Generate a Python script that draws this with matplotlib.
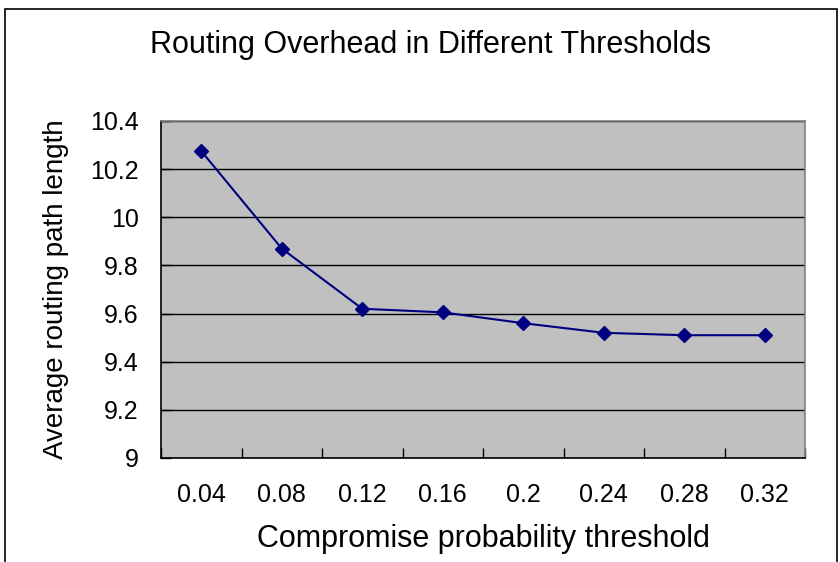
import matplotlib.pyplot as plt
from matplotlib.patches import Rectangle

# Данные с графика
thresholds = ["0.04", "0.08", "0.12", "0.16", "0.2", "0.24", "0.28", "0.32"]
path_length = [10.275, 9.87, 9.62, 9.605, 9.56, 9.52, 9.51, 9.51]
y_ticks = [9, 9.2, 9.4, 9.6, 9.8, 10, 10.2, 10.4]
y_tick_labels = ["9", "9.2", "9.4", "9.6", "9.8", "10", "10.2", "10.4"]

plt.rcParams['font.family'] = ['Liberation Sans', 'DejaVu Sans']

fig = plt.figure(figsize=(8.4, 5.62), dpi=100)
ax = fig.add_axes([0.1917, 0.1851, 0.7667, 0.5996])

# Рамка вокруг всей диаграммы
fig.patches.append(Rectangle((5 / 840, -0.05), 832 / 840, 1.05 - 9 / 562,
                             transform=fig.transFigure, fill=False,
                             edgecolor='black', linewidth=1.2))

x = list(range(len(thresholds)))
ax.set_facecolor('#c0c0c0')
ax.plot(x, path_length, color='#000080', linewidth=1.5, marker='D',
        markersize=7, markerfacecolor='#000080', markeredgecolor='#000080',
        zorder=3)

ax.set_xlim(-0.5, len(thresholds) - 0.5)
ax.set_ylim(9, 10.4)
ax.set_yticks(y_ticks)
ax.set_yticklabels(y_tick_labels)
ax.set_xticks(x)
ax.set_xticklabels(thresholds)
ax.set_xticks([i - 0.5 for i in range(len(thresholds) + 1)], minor=True)

ax.yaxis.grid(True, color='black', linewidth=1)
ax.tick_params(axis='x', which='major', length=0, pad=18, labelsize=18)
ax.tick_params(axis='x', which='minor', direction='in', length=7, width=1)
ax.tick_params(axis='y', direction='in', length=7, width=1, pad=16,
               labelsize=18)

for side in ['top', 'right']:
    ax.spines[side].set_color('#808080')
ax.spines['left'].set_color('black')
ax.spines['bottom'].set_color('black')
for s in ax.spines.values():
    s.set_linewidth(1.2)

ax.set_xlabel('Compromise probability threshold', fontsize=22, labelpad=12)
ax.set_ylabel('Average routing path length', fontsize=20, labelpad=15)
fig.text(431 / 840, 1 - 53 / 562, 'Routing Overhead in Different Thresholds',
         ha='center', va='baseline', fontsize=22)

fig.savefig('out.png', dpi=100)
